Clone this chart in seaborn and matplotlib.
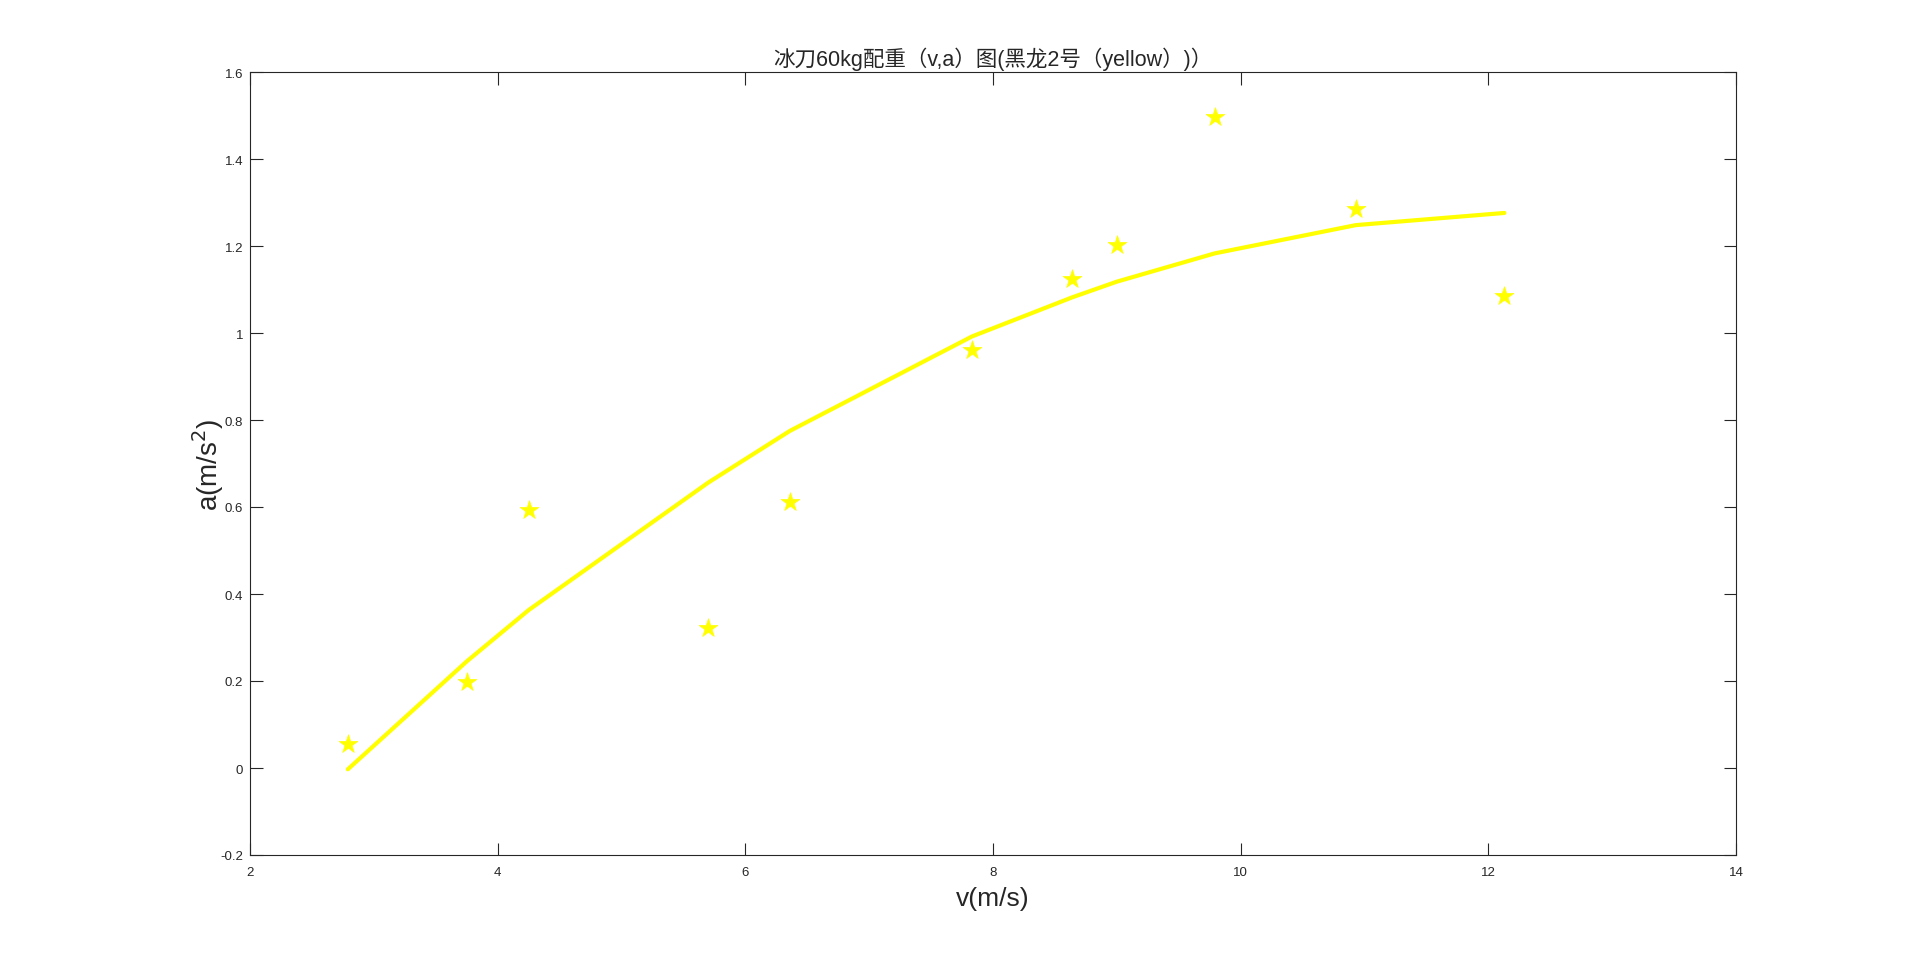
import numpy as np
import pandas as pd
import matplotlib
matplotlib.use("Agg")
import matplotlib.pyplot as plt
import seaborn as sns

# measured points (stars)
v_data = [2.79, 3.75, 4.25, 5.70, 6.36, 7.83, 8.64, 9.00, 9.79, 10.93, 12.13]
a_data = [0.056, 0.197, 0.592, 0.321, 0.611, 0.961, 1.124, 1.203, 1.496, 1.284, 1.085]

# fitted curve, read at the same v values
a_fit = [-0.003, 0.245, 0.363, 0.656, 0.775, 0.992, 1.082, 1.118, 1.183, 1.248, 1.276]

x_ticks = [2, 4, 6, 8, 10, 12, 14]
y_ticks = [-0.2, 0, 0.2, 0.4, 0.6, 0.8, 1, 1.2, 1.4, 1.6]
y_tick_labels = ["-0.2", "0", "0.2", "0.4", "0.6", "0.8", "1", "1.2", "1.4", "1.6"]

title = "冰刀60kg配重（v,a）图(黑龙2号（yellow）)）"

df = pd.DataFrame({"v": v_data, "a": a_data, "fit": a_fit})

sns.set_style("white")
plt.rcParams["font.family"] = ["Liberation Sans", "Noto Sans CJK SC", "DejaVu Sans"]

fig = plt.figure(figsize=(19.2, 9.62), dpi=100)
ax = fig.add_axes([250 / 1920, 1 - 856 / 962, (1736 - 250) / 1920, (856 - 73) / 962])

sns.lineplot(data=df, x="v", y="fit", color="#ffff00", linewidth=3, ax=ax, sort=False)
sns.scatterplot(data=df, x="v", y="a", marker="*", s=200, color="#ffff00",
                edgecolor="#ffff00", linewidth=0.5, ax=ax, zorder=3)

ax.set_xlim(2, 14)
ax.set_ylim(-0.2, 1.6)
ax.set_xticks(x_ticks)
ax.set_xticklabels([str(t) for t in x_ticks])
ax.set_yticks(y_ticks)
ax.set_yticklabels(y_tick_labels)

ax.tick_params(direction="in", length=9, width=0.8, top=True, right=True,
               bottom=True, left=True, labelsize=9.5, colors="#262626", pad=8)
ax.tick_params(axis="y", pad=5)
for sp in ax.spines.values():
    sp.set_visible(True)
    sp.set_color("#262626")
    sp.set_linewidth(0.8)

ax.set_xlabel("v(m/s)", fontsize=19, labelpad=6)
ax.set_ylabel("a(m/s$^2$)", fontsize=20, labelpad=-4)
ax.set_title(title, fontsize=15.5, pad=5)

fig.savefig("out.png", dpi=100, facecolor="white")
